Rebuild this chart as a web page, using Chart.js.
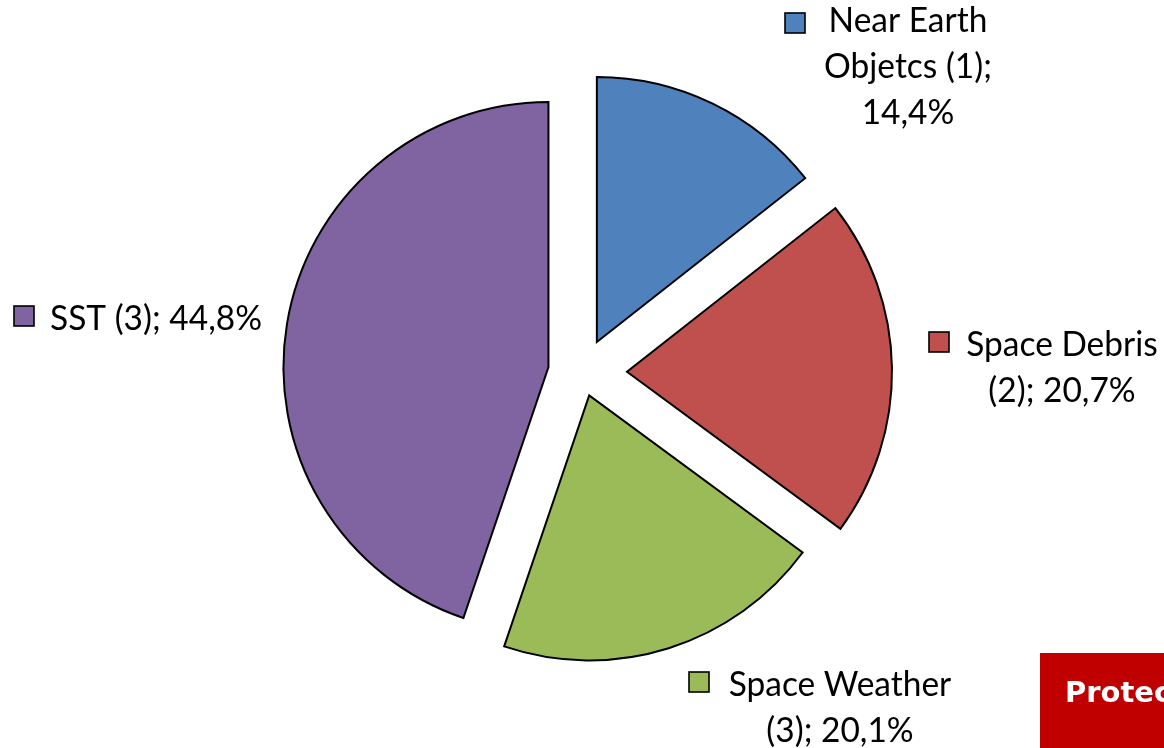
<!DOCTYPE html>
<html>
<head>
<meta charset="utf-8">
<script src="https://cdn.jsdelivr.net/npm/chart.js@4"></script>
<style>
html,body{margin:0;padding:0;background:#fff;overflow:hidden}
#wrap{position:relative;width:1164px;height:748px}
canvas{display:block}
</style>
</head>
<body>
<div id="wrap"><canvas id="c" width="1164" height="748"></canvas></div>
<script>
// ---- data ----
const categories = ['Near Earth Objetcs', 'Space Debris', 'Space Weather', 'SST'];
const counts = [1, 2, 3, 3];
const shares = [14.4, 20.7, 20.1, 44.8];
const boxText = 'Protected';

// ---- styles / layout ----
const colors = ['#4F81BD', '#C0504D', '#9BBB59', '#8064A2'];
const PIE_RADIUS = 265;
const explodePx = [34, 45, 24, 34];           // visual explosion of each slice in px
const FONT_FAMILY = 'Lato, "Liberation Sans", sans-serif';
const FONT_SIZE = 34;
const LINE_H = 46;
const labelLayout = [
  {cx: 908,  y0: 32,  keyX: 785, keyY: 13,  wrap: 175},
  {cx: 1062, y0: 356, keyX: 929, keyY: 332, wrap: 200},
  {cx: 840,  y0: 696, keyX: 689, keyY: 672, wrap: 235},
  {cx: 156,  y0: 330, keyX: 14,  keyY: 306, wrap: 400}
];

function fmtPct(v) { return v.toFixed(1).replace('.', ',') + '%'; }

function wrapLines(ctx, text, maxW, sx) {
  const words = text.split(' ');
  const lines = [];
  let cur = '';
  for (const w of words) {
    const t = cur ? cur + ' ' + w : w;
    if (cur && ctx.measureText(t).width * sx > maxW) { lines.push(cur); cur = w; }
    else cur = t;
  }
  if (cur) lines.push(cur);
  return lines;
}

// compensates Chart.js' radius growth / angle trim of offset arcs
const explodeFix = {
  id: 'explodeFix',
  afterDatasetsUpdate(chart) {
    const meta = chart.getDatasetMeta(0);
    meta.data.forEach(el => {
      const o = (el.options.offset || 0) / 4;
      const fix = 1 - Math.sin(Math.min(Math.PI, el.circumference || 0));
      const ro = o * fix;
      el.outerRadius = PIE_RADIUS - ro;
      const da = ro / Math.PI / PIE_RADIUS / 2;
      el.startAngle -= da;
      el.endAngle += da;
    });
  }
};

const labelsPlugin = {
  id: 'pieLabels',
  afterDraw(chart) {
    const ctx = chart.ctx;
    ctx.save();
    ctx.font = FONT_SIZE + 'px ' + FONT_FAMILY;
    const sx = 212 / ctx.measureText('SST (3); 44,8%').width;
    ctx.fillStyle = '#000';
    ctx.textAlign = 'center';
    ctx.textBaseline = 'alphabetic';
    categories.forEach((name, i) => {
      const L = labelLayout[i];
      const text = name + ' (' + counts[i] + '); ' + fmtPct(shares[i]);
      const lines = wrapLines(ctx, text, L.wrap, sx);
      lines.forEach((ln, k) => {
        ctx.save();
        ctx.translate(L.cx, L.y0 + k * LINE_H);
        ctx.scale(sx, 1);
        ctx.fillStyle = '#000';
        ctx.fillText(ln, 0, 0);
        ctx.restore();
      });
      // legend key
      ctx.fillStyle = colors[i];
      ctx.fillRect(L.keyX, L.keyY, 20, 20);
      ctx.lineWidth = 1.6;
      ctx.strokeStyle = '#000';
      ctx.strokeRect(L.keyX, L.keyY, 20, 20);
    });
    // red box at bottom right
    ctx.fillStyle = '#C00000';
    ctx.fillRect(1040, 653, 200, 100);
    ctx.fillStyle = '#FFFFFF';
    ctx.textAlign = 'left';
    ctx.font = 'bold 29px "DejaVu Sans", Verdana, sans-serif';
    ctx.fillText(boxText, 1065, 702);
    ctx.restore();
  }
};

new Chart(document.getElementById('c'), {
  type: 'pie',
  data: {
    labels: categories,
    datasets: [{
      data: shares,
      backgroundColor: colors,
      borderColor: '#000',
      borderWidth: 2,
      borderJoinStyle: 'miter',
      offset: explodePx.map(v => v * 4),
      hoverOffset: 0,
      radius: PIE_RADIUS
    }]
  },
  options: {
    responsive: false,
    devicePixelRatio: 1,
    animation: false,
    events: [],
    layout: {padding: {top: 0, bottom: 3, left: 0, right: 0}},
    plugins: {legend: {display: false}, tooltip: {enabled: false}, title: {display: false}}
  },
  plugins: [explodeFix, labelsPlugin]
});
</script>
</body>
</html>
